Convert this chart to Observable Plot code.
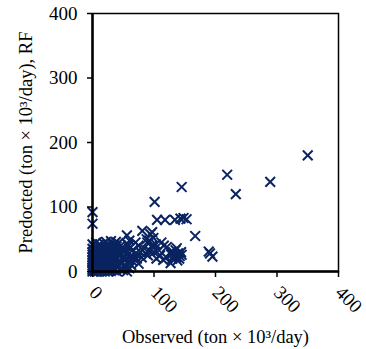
<!DOCTYPE html>
<html>
<head>
<meta charset="utf-8">
<script src="https://cdn.jsdelivr.net/npm/d3@7"></script>
<script src="https://cdn.jsdelivr.net/npm/@observablehq/plot@0.6"></script>
<style>
  html, body { margin: 0; padding: 0; background: #fff; }
</style>
</head>
<body>
<div id="chart"></div>
<script>
const xTicks = [0, 100, 200, 300, 400];
const yTicks = [0, 100, 200, 300, 400];
const xTitle = "Observed (ton × 10³/day)";
const yTitle = "Predocted (ton × 10³/day), RF";

const observed = [
  350, 289, 219, 233, 145, 101,
  105, 118, 134, 143, 153, 148,
  167, 189, 195, 191,
  0, 0, 0, 0,
  94, 97, 81, 56, 89, 75, 97, 86, 116, 108, 121, 127, 127, 56, 46, 34, 65, 40, 51, 67, 97, 88, 70, 60,
  130, 133, 136, 139, 142, 145, 131, 138, 135, 141, 144, 128, 137,
  0, 0, 0, 0, 0, 0, 0, 0, 0, 1, 1, 2, 2, 2, 3, 3, 4, 4, 5, 5, 6, 6, 7, 7, 8, 8, 9, 10, 10, 10,
  11, 12, 12, 13, 14, 14, 15, 16, 16, 17, 18, 18, 19, 20, 20, 21, 22, 23, 24, 25, 25, 26, 27, 28, 29,
  30, 31, 32, 33, 34, 35, 36, 37, 38, 39, 40, 41, 42, 43, 44, 45, 47, 48, 50, 52, 53, 55, 57, 58, 60,
  62, 63, 3, 5, 8, 11, 14, 6, 22, 30, 38, 18, 1, 2, 4, 9, 15, 20, 25, 30, 35, 40, 45, 50, 60,
  65, 70, 72, 75, 78, 80, 84, 90, 93, 100, 103, 110, 112, 92, 99, 104, 115, 120,
  2, 4, 6, 8, 10, 12, 14, 16, 18, 20, 22, 24, 26, 28, 30, 32, 5, 9, 13, 17, 21, 25, 29, 33, 37, 3, 7, 11, 15, 19, 23, 27, 31, 35, 39, 43, 47, 51, 55, 59
];
const predicted = [
  180, 139, 150, 120, 131, 108,
  80, 80, 80, 82, 81, 83,
  55, 31, 23, 28,
  92, 74, 42, 35,
  58, 61, 63, 56, 45, 40, 40, 28, 40, 33, 38, 30, 13, 0, 40, 40, 33, 30, 22, 22, 38, 50, 45, 48,
  20, 25, 22, 28, 24, 26, 30, 17, 33, 20, 30, 26, 36,
  0, 3, 6, 10, 14, 18, 22, 26, 30, 2, 8, 5, 12, 20, 1, 16, 9, 25, 3, 14, 7, 20, 0, 11, 4, 17, 28, 2, 9, 22,
  14, 6, 31, 18, 1, 10, 25, 5, 15, 35, 8, 20, 28, 3, 12, 38, 17, 7, 24, 32, 13, 2, 40, 20, 9,
  28, 36, 15, 4, 25, 42, 18, 11, 33, 39, 22, 6, 44, 16, 30, 26, 36, 12, 20, 34, 8, 28, 42, 16, 36,
  24, 10, 38, 30, 36, 42, 38, 45, 46, 47, 46, 44, 18, 28, 0, 0, 0, 0, 0, 1, 2, 0, 3, 2, 5,
  16, 28, 20, 12, 30, 22, 36, 25, 32, 30, 42, 25, 45, 48, 52, 20, 18, 22,
  6, 12, 18, 24, 4, 10, 16, 22, 28, 6, 12, 18, 24, 30, 8, 14, 20, 26, 32, 10, 16, 22, 6, 12, 18, 24, 30, 4, 9, 14, 19, 26, 33, 38, 10, 24, 14, 30, 20, 40
];

const data = observed.map((o, i) => ({observed: o, predicted: predicted[i]}));

const chart = Plot.plot({
  width: 366,
  height: 349,
  marginLeft: 92,
  marginRight: 28,
  marginTop: 13,
  marginBottom: 78,
  style: {fontFamily: "'Liberation Serif', 'Times New Roman', serif", fontSize: "19px", color: "#000", background: "#fff"},
  x: {domain: [0, 400]},
  y: {domain: [0, 400]},
  marks: [
    Plot.dot(data, {x: "observed", y: "predicted", symbol: "times", r: 4.5, stroke: "#0a2461", strokeWidth: 2}),
    Plot.frame({stroke: "#000", strokeWidth: 1.5}),
    Plot.ruleX([0], {stroke: "#000", strokeWidth: 2.5}),
    Plot.ruleY([0], {stroke: "#000", strokeWidth: 2.5}),
    Plot.axisY({ticks: yTicks, tickSize: 5, tickPadding: 10, label: null, fontSize: 19, strokeWidth: 1.5}),
    Plot.axisX({ticks: xTicks, tickSize: 6, tickFormat: () => "", label: null, strokeWidth: 1.5}),
    Plot.text(xTicks, {x: d => d, frameAnchor: "bottom", dy: 18, rotate: 45, textAnchor: "start", lineAnchor: "middle", text: d => String(d), fontSize: 19}),
    Plot.text([xTitle], {frameAnchor: "bottom", dy: 71, text: d => d, fontSize: 18.5}),
    Plot.text([yTitle], {frameAnchor: "left", dx: -66, rotate: -90, textAnchor: "middle", text: d => d, fontSize: 18.5})
  ]
});
document.getElementById("chart").appendChild(chart);
</script>
</body>
</html>
